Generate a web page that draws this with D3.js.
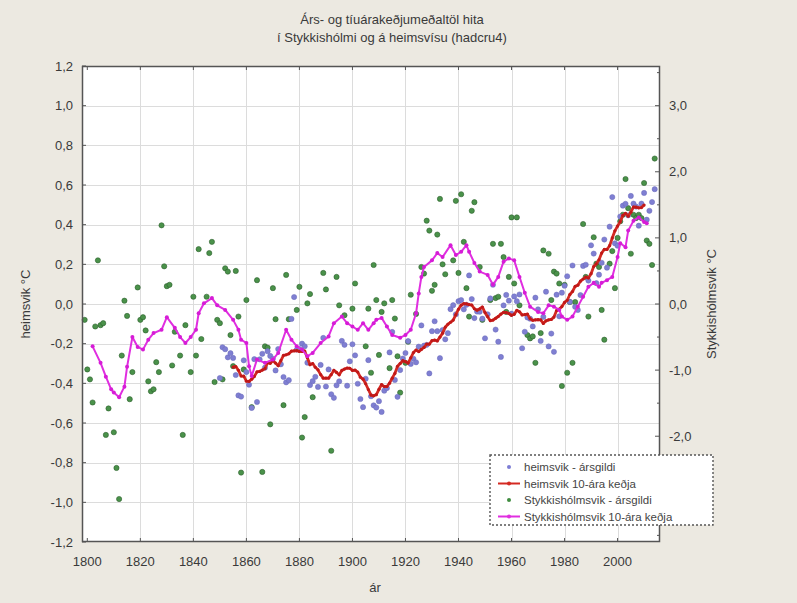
<!DOCTYPE html>
<html>
<head>
<meta charset="utf-8">
<script src="https://cdn.jsdelivr.net/npm/d3@7"></script>
<style>
  html, body { margin: 0; padding: 0; background: #ece9e1; }
  svg { display: block; font-family: "Liberation Sans", Arial, sans-serif; }
</style>
</head>
<body>
<svg id="chart" width="797" height="603"></svg>
<script>
// global annual anomalies (hadcru4), left axis
const globalYears = d3.range(1850, 2015);
const globalAnnual = [
  -0.373,-0.218,-0.228,-0.269,-0.248,-0.272,-0.358,-0.461,-0.467,-0.284,
  -0.343,-0.407,-0.524,-0.278,-0.494,-0.279,-0.251,-0.321,-0.238,-0.262,
  -0.276,-0.335,-0.227,-0.304,-0.368,-0.395,-0.384,-0.075,0.035,-0.230,
  -0.227,-0.200,-0.213,-0.296,-0.409,-0.389,-0.367,-0.418,-0.307,-0.171,
  -0.416,-0.330,-0.455,-0.473,-0.410,-0.390,-0.186,-0.206,-0.412,-0.289,
  -0.203,-0.259,-0.402,-0.479,-0.520,-0.377,-0.283,-0.465,-0.511,-0.522,
  -0.490,-0.544,-0.437,-0.424,-0.244,-0.141,-0.383,-0.468,-0.333,-0.275,
  -0.247,-0.187,-0.302,-0.276,-0.294,-0.215,-0.108,-0.210,-0.206,-0.350,
  -0.137,-0.087,-0.137,-0.273,-0.131,-0.178,-0.147,-0.026,-0.006,-0.052,
  0.014,0.020,-0.027,-0.004,0.144,0.025,-0.071,-0.038,-0.039,-0.074,
  -0.173,-0.052,0.028,0.097,-0.129,-0.190,-0.267,-0.007,0.046,0.017,
  -0.049,0.038,0.014,0.048,-0.223,-0.140,-0.068,-0.074,-0.113,0.032,
  -0.027,-0.186,-0.065,0.062,-0.214,-0.149,-0.241,0.047,-0.062,0.057,
  0.092,0.140,0.011,0.194,-0.014,-0.030,0.045,0.192,0.198,0.118,
  0.296,0.254,0.105,0.148,0.208,0.325,0.183,0.390,0.539,0.306,
  0.294,0.441,0.496,0.505,0.447,0.545,0.506,0.491,0.395,0.506,
  0.560,0.425,0.470,0.514,0.579
];

// global 10-year chain, left axis
const global10Years = d3.range(1855, 2011);
const global10 = [
  -0.318,-0.315,-0.334,-0.363,-0.364,-0.389,-0.390,-0.379,-0.365,-0.342,
  -0.340,-0.333,-0.326,-0.296,-0.299,-0.286,-0.298,-0.311,-0.286,-0.259,
  -0.256,-0.251,-0.238,-0.236,-0.235,-0.239,-0.239,-0.237,-0.271,-0.306,
  -0.300,-0.319,-0.332,-0.356,-0.374,-0.374,-0.374,-0.356,-0.334,-0.345,
  -0.357,-0.335,-0.328,-0.323,-0.324,-0.335,-0.333,-0.343,-0.369,-0.379,
  -0.402,-0.431,-0.459,-0.463,-0.457,-0.430,-0.406,-0.416,-0.416,-0.399,
  -0.374,-0.350,-0.314,-0.300,-0.286,-0.291,-0.298,-0.271,-0.245,-0.232,
  -0.240,-0.229,-0.219,-0.202,-0.202,-0.185,-0.182,-0.186,-0.167,-0.147,
  -0.117,-0.102,-0.092,-0.081,-0.054,-0.026,-0.006,0.002,0.001,-0.003,
  -0.005,-0.024,-0.031,-0.025,-0.015,-0.043,-0.064,-0.084,-0.081,-0.072,
  -0.063,-0.051,-0.042,-0.043,-0.048,-0.057,-0.052,-0.032,-0.039,-0.055,
  -0.054,-0.051,-0.074,-0.082,-0.080,-0.079,-0.080,-0.098,-0.085,-0.080,
  -0.078,-0.066,-0.033,-0.026,-0.013,0.008,0.019,0.048,0.063,0.089,
  0.095,0.115,0.126,0.136,0.131,0.153,0.189,0.203,0.223,0.257,
  0.275,0.275,0.294,0.333,0.369,0.393,0.415,0.447,0.457,0.443,
  0.463,0.489,0.488,0.485,0.486,0.499
];

// Stykkisholmur annual anomalies, right axis
const styYears = [
  1799,1800,1801,1802,1803,1804,1805,1806,1807,1808,1810,1811,1812,1813,1814,1815,1816,1817,1819,1820,
  1821,1822,1823,1824,1825,1826,1827,1828,1829,1830,1831,1832,1833,1835,1836,1837,1839,1840,1841,1842,
  1843,1845,1846,1847,1848,1849,1850,1851,1852,1853,1854,1855,1856,1857,1858,1859,1860,1862,1864,1866,
  1867,1868,1869,1870,1871,1874,1875,1876,1879,1880,1881,1882,1883,1884,1885,1889,1890,1892,1894,1895,
  1897,1900,1901,1905,1906,1907,1908,1909,1910,1911,1912,1914,1915,1916,1917,1918,1920,1921,1922,1924,
  1926,1927,1928,1929,1930,1931,1932,1933,1934,1935,1938,1939,1940,1941,1942,1943,1944,1945,1946,1948,
  1949,1952,1953,1954,1955,1956,1957,1958,1959,1960,1961,1962,1963,1966,1967,1968,1969,1971,1972,1974,
  1975,1976,1977,1978,1979,1980,1981,1982,1983,1984,1987,1988,1989,1991,1992,1993,1994,1995,1997,1998,
  1999,2000,2001,2002,2003,2004,2005,2006,2007,2008,2009,2010,2011,2012,2013,2014
];
const styAnnual = [
  -0.24,-0.99,-1.14,-1.49,-0.34,0.66,-0.32,-0.29,-1.98,-1.58,-1.94,-2.48,-2.95,-0.78,0.05,-0.18,-1.44,-1.03,0.25,-0.24,
  -0.20,-0.40,-1.17,-1.32,-1.29,-0.88,-1.03,1.19,0.57,0.27,0.29,-0.93,-0.42,-0.78,-1.98,-0.32,-1.03,0.11,-0.78,0.83,
  -0.53,0.11,0.77,0.94,-1.18,-0.24,-0.29,-1.14,0.54,0.49,-0.47,-0.94,0.50,-0.19,-2.55,-0.99,0.06,-1.56,0.36,-2.54,
  -0.64,-0.66,-1.82,0.24,-0.23,-1.53,0.44,-0.23,-0.09,0.26,-2.02,-1.71,0.01,0.15,-1.41,0.47,0.22,-2.22,0.41,-0.02,
  -0.17,-0.07,0.31,-0.64,-0.07,-1.04,0.59,0.06,-0.77,-0.12,0.01,-0.97,0.06,-0.22,-0.79,-1.34,-0.89,-0.57,0.14,-0.15,
  0.56,0.46,1.26,1.11,0.20,0.29,1.05,1.59,0.60,0.45,0.66,1.56,0.47,1.66,0.94,0.24,-0.19,1.41,1.54,0.56,
  -0.24,0.06,0.91,0.09,0.11,0.91,0.71,-0.12,0.41,1.31,0.31,1.31,-0.02,-0.47,-0.52,-0.49,-0.89,-0.44,0.81,0.76,
  0.06,0.49,0.46,0.31,-1.24,0.29,-1.04,0.03,-0.89,0.03,1.21,0.41,-0.19,1.01,0.61,0.56,-0.09,-0.54,0.61,0.80,
  0.24,1.00,1.25,1.35,1.89,1.45,0.76,1.35,1.30,1.35,1.30,1.83,0.96,0.91,0.59,2.20
];

// Stykkisholmur 10-year chain, right axis
const sty10Years = [
  1802,1805,1807,1809,1810,1812,1814,1815,1817,1819,1821,1823,1825,1828,1830,1833,1835,1837,1839,1841,
  1842,1844,1847,1849,1852,1855,1857,1858,1860,1861,1862,1864,1867,1870,1872,1875,1877,1879,1881,1883,
  1885,1888,1891,1893,1896,1898,1900,1902,1904,1906,1908,1909,1911,1913,1915,1918,1920,1922,1924,1925,
  1926,1927,1930,1932,1934,1937,1939,1941,1943,1944,1946,1948,1951,1953,1955,1957,1959,1961,1963,1965,
  1967,1970,1972,1974,1976,1978,1979,1981,1983,1985,1987,1989,1991,1993,1994,1996,1998,2000,2001,2003,
  2004,2006,2008,2010,2011
];
const sty10 = [
  -0.64,-0.89,-1.10,-1.29,-1.34,-1.41,-1.25,-0.95,-0.50,-0.65,-0.69,-0.54,-0.44,-0.39,-0.20,-0.36,-0.50,-0.59,-0.50,-0.39,
  -0.14,0.01,0.09,-0.02,-0.09,-0.24,-0.39,-0.54,-0.59,-0.94,-1.09,-0.84,-0.89,-0.84,-0.74,-0.39,-0.54,-0.64,-0.69,-0.79,
  -0.74,-0.59,-0.49,-0.29,-0.19,-0.29,-0.34,-0.39,-0.29,-0.39,-0.29,-0.24,-0.21,-0.34,-0.47,-0.51,-0.47,-0.39,-0.14,0.16,
  0.41,0.56,0.66,0.77,0.71,0.89,0.74,0.79,0.89,0.79,0.62,0.49,0.44,0.29,0.41,0.64,0.69,0.66,0.41,0.17,
  -0.04,-0.12,-0.14,-0.02,-0.04,-0.09,-0.19,-0.24,-0.19,-0.04,0.11,0.26,0.32,0.26,0.32,0.36,0.41,0.71,0.92,0.86,
  1.11,1.26,1.31,1.24,1.22
];

const leftTicks = d3.range(-1.2, 1.21, 0.2);
const rightTicks = [-3, -2, -1, 0, 1, 2, 3];
const rightMinor = [-3.5, -2.5, -1.5, -0.5, 0.5, 1.5, 2.5, 3.5];
const yearTicks = d3.range(1800, 2001, 20);

const legendItems = [
  { label: "heimsvik - ársgildi", kind: "dot", color: "#7d7dd4" },
  { label: "heimsvik 10-ára keðja", kind: "line", color: "#d42a22" },
  { label: "Stykkishólmsvik - ársgildi", kind: "dot", color: "#3f8c3f" },
  { label: "Stykkishólmsvik 10-ára keðja", kind: "line", color: "#e02ee0" }
];

const svg = d3.select("#chart");
const L = 82, R = 660, T = 66, B = 542;

const locale = d3.formatLocale({ decimal: ",", thousands: ".", grouping: [3], currency: ["", ""], minus: "-" });
const fmt = locale.format(".1f");

const x = d3.scaleLinear().domain([1798, 2016]).range([L, R]);
const yL = d3.scaleLinear().domain([-1.2, 1.2]).range([B, T]);
const yR = d3.scaleLinear().domain([-3.6, 3.6]).range([B, T]);

svg.append("rect").attr("width", 797).attr("height", 603).attr("fill", "#ece9e1");
svg.append("rect").attr("x", L).attr("y", T).attr("width", R - L).attr("height", B - T).attr("fill", "#fff");

// grid
const grid = svg.append("g").attr("stroke", "#dcdcdc").attr("stroke-width", 1);
grid.selectAll(".gh").data(leftTicks.slice(1, -1)).join("line")
  .attr("x1", L).attr("x2", R)
  .attr("y1", d => Math.round(yL(d)) + 0.5).attr("y2", d => Math.round(yL(d)) + 0.5);
grid.selectAll(".gv").data(yearTicks.slice(1)).join("line")
  .attr("y1", T).attr("y2", B)
  .attr("x1", d => Math.round(x(d)) + 0.5).attr("x2", d => Math.round(x(d)) + 0.5);

// annual dots
const plot = svg.append("g");
plot.selectAll(".sty").data(styYears).join("circle")
  .attr("cx", d => x(d)).attr("cy", (d, i) => yR(styAnnual[i])).attr("r", 2.6)
  .attr("fill", "#4a924a").attr("stroke", "#2e5f2e").attr("stroke-width", 0.6);
plot.selectAll(".glob").data(globalYears).join("circle")
  .attr("cx", d => x(d)).attr("cy", (d, i) => yL(globalAnnual[i])).attr("r", 2.6)
  .attr("fill", "#7f7fd2").attr("stroke", "#6a6abb").attr("stroke-width", 0.5);

// 10-year chains
const lineG = d3.line().x(d => x(d[0])).y(d => yL(d[1]));
const g10 = global10Years.map((yr, i) => [yr, global10[i]]);
plot.append("path").datum(g10).attr("d", lineG)
  .attr("fill", "none").attr("stroke", "#d42a22").attr("stroke-width", 2.8).attr("stroke-linejoin", "round");
plot.selectAll(".g10m").data(g10).join("circle")
  .attr("cx", d => x(d[0])).attr("cy", d => yL(d[1])).attr("r", 1.6).attr("fill", "#c01818");

const lineR = d3.line().x(d => x(d[0])).y(d => yR(d[1]));
const s10 = sty10Years.map((yr, i) => [yr, sty10[i]]);
plot.append("path").datum(s10).attr("d", lineR)
  .attr("fill", "none").attr("stroke", "#e02ee0").attr("stroke-width", 2).attr("stroke-linejoin", "round");
plot.selectAll(".s10m").data(s10).join("circle")
  .attr("cx", d => x(d[0])).attr("cy", d => yR(d[1])).attr("r", 2).attr("fill", "#d61cd6");

// frame and ticks
const axisCol = "#555";
svg.append("rect").attr("x", L + 0.5).attr("y", T + 0.5).attr("width", R - L - 1).attr("height", B - T - 1)
  .attr("fill", "none").attr("stroke", axisCol).attr("stroke-width", 1.5);

const ticks = svg.append("g").attr("stroke", axisCol).attr("stroke-width", 1);
ticks.selectAll(".tl").data(leftTicks).join("line")
  .attr("x1", L).attr("x2", L + 4).attr("y1", d => yL(d)).attr("y2", d => yL(d));
ticks.selectAll(".tr").data(rightTicks).join("line")
  .attr("x1", R - 5).attr("x2", R).attr("y1", d => yR(d)).attr("y2", d => yR(d));
ticks.selectAll(".trm").data(rightMinor).join("line")
  .attr("x1", R - 3).attr("x2", R).attr("y1", d => yR(d)).attr("y2", d => yR(d));
ticks.selectAll(".tb").data(yearTicks).join("line")
  .attr("x1", d => x(d)).attr("x2", d => x(d)).attr("y1", B).attr("y2", B - 4);
ticks.selectAll(".tt").data(yearTicks).join("line")
  .attr("x1", d => x(d)).attr("x2", d => x(d)).attr("y1", T).attr("y2", T + 4);

// tick labels
const lab = svg.append("g").attr("fill", "#3a3a3a").attr("font-size", 13);
lab.selectAll(".ll").data(leftTicks).join("text")
  .attr("x", L - 9).attr("y", d => yL(d) + 4.5).attr("text-anchor", "end").text(d => fmt(d));
lab.selectAll(".rl").data(rightTicks).join("text")
  .attr("x", R + 9).attr("y", d => yR(d) + 4.5).attr("text-anchor", "start").text(d => fmt(d));
lab.selectAll(".bl").data(yearTicks).join("text")
  .attr("x", d => x(d)).attr("y", B + 24).attr("text-anchor", "middle").text(d => d);

// axis titles
lab.append("text").attr("x", 375).attr("y", 592).attr("text-anchor", "middle").text("ár");
lab.append("text").attr("transform", `translate(30,${(T + B) / 2}) rotate(-90)`)
  .attr("text-anchor", "middle").text("heimsvik °C");
lab.append("text").attr("transform", `translate(716,${(T + B) / 2}) rotate(-90)`)
  .attr("text-anchor", "middle").text("Stykkishólmsvik °C");

// title
const title = svg.append("g").attr("fill", "#3a3a3a").attr("font-size", 13).attr("text-anchor", "middle");
title.append("text").attr("x", 392).attr("y", 24).text("Árs- og tíuárakeðjumeðaltöl hita");
title.append("text").attr("x", 392).attr("y", 42).text("í Stykkishólmi og á heimsvísu (hadcru4)");

// legend
const lg = svg.append("g").attr("transform", "translate(490,455)");
lg.append("rect").attr("width", 223).attr("height", 70).attr("fill", "#fff")
  .attr("stroke", "#555").attr("stroke-width", 1.4).attr("stroke-dasharray", "2,2");
const rows = lg.selectAll(".row").data(legendItems).join("g")
  .attr("transform", (d, i) => `translate(0,${12 + i * 16.5})`);
rows.filter(d => d.kind === "line").append("line")
  .attr("x1", 8).attr("x2", 30).attr("y1", 0).attr("y2", 0)
  .attr("stroke", d => d.color).attr("stroke-width", 2);
rows.append("circle").attr("cx", 19).attr("cy", 0).attr("r", 2)
  .attr("fill", d => d.color);
rows.append("text").attr("x", 34).attr("y", 4).attr("font-size", 11.5).attr("fill", "#444")
  .text(d => d.label);
</script>
</body>
</html>
